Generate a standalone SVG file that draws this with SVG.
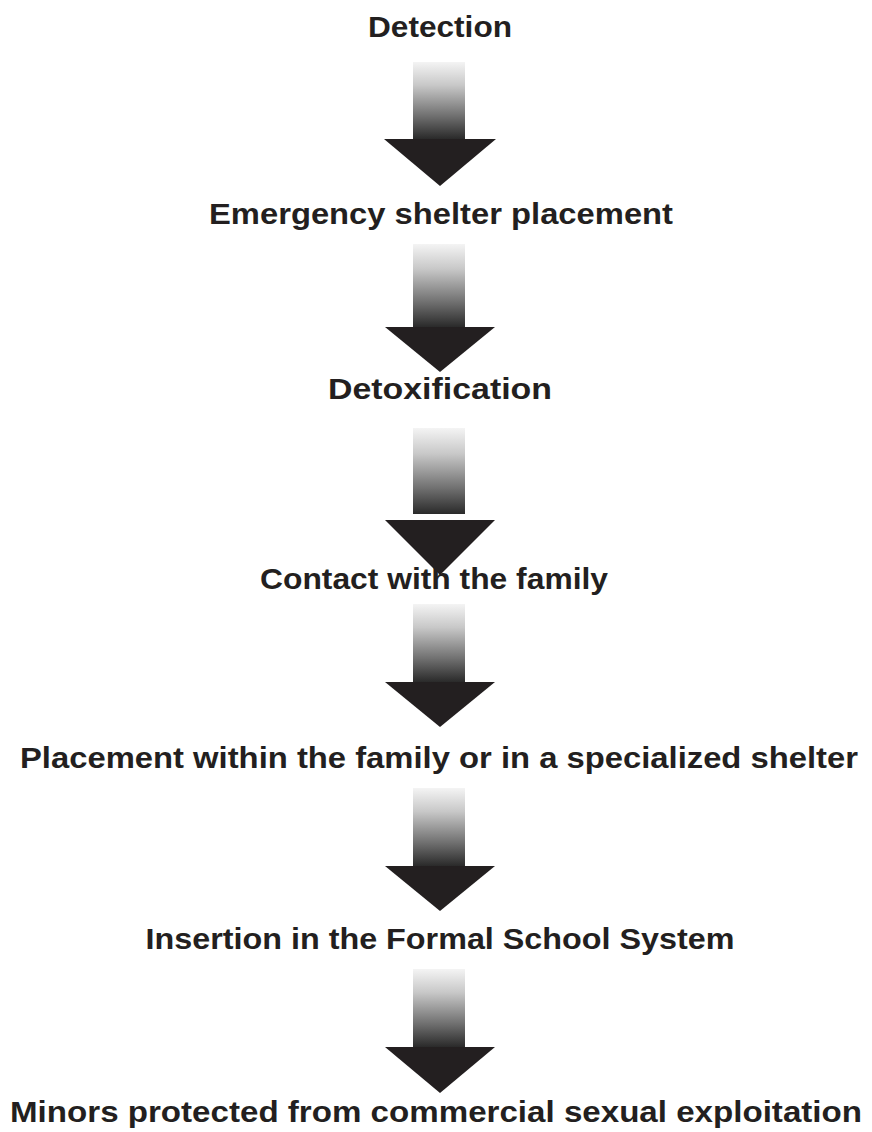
<svg xmlns="http://www.w3.org/2000/svg" width="872" height="1132" viewBox="0 0 872 1132">
<style>
.t{font-family:"Liberation Sans",Arial,sans-serif;font-weight:bold;font-size:30px;fill:#231f20;text-anchor:middle}
.head{fill:#231f20}
.shaft{fill:url(#g)}
</style>
<defs>
<linearGradient id="g" x1="0" y1="0" x2="0" y2="1">
<stop offset="0" stop-color="#f4f4f4"/>
<stop offset="0.3" stop-color="#c8c8c8"/>
<stop offset="0.7" stop-color="#707070"/>
<stop offset="1" stop-color="#2a2a2a"/>
</linearGradient>
</defs>
<g id="n1"><text class="t" x="440" y="37" textLength="144" lengthAdjust="spacingAndGlyphs">Detection</text></g>
<g id="n2"><text class="t" x="441" y="224" textLength="464" lengthAdjust="spacingAndGlyphs">Emergency shelter placement</text></g>
<g id="n3"><text class="t" x="440" y="399" textLength="224" lengthAdjust="spacingAndGlyphs">Detoxification</text></g>
<g id="n4"><text class="t" x="434" y="589" textLength="348" lengthAdjust="spacingAndGlyphs">Contact with the family</text></g>
<g id="n5"><text class="t" x="439" y="768" textLength="838" lengthAdjust="spacingAndGlyphs">Placement within the family or in a specialized shelter</text></g>
<g id="n6"><text class="t" x="440" y="949" textLength="589" lengthAdjust="spacingAndGlyphs">Insertion in the Formal School System</text></g>
<g id="n7"><text class="t" x="436" y="1122" textLength="852" lengthAdjust="spacingAndGlyphs">Minors protected from commercial sexual exploitation</text></g>
<g id="connectors">
<rect class="shaft" x="413" y="62" width="52" height="77"/>
<polygon class="head" points="384,139 496,139 440,186"/>
<rect class="shaft" x="413" y="244" width="52" height="83"/>
<polygon class="head" points="385,327 495,327 440,372"/>
<rect class="shaft" x="413" y="428" width="52" height="86"/>
<polygon class="head" points="385,520 495,520 440,575"/>
<rect class="shaft" x="413" y="604" width="52" height="78"/>
<polygon class="head" points="385,682 495,682 440,727"/>
<rect class="shaft" x="413" y="788" width="52" height="78"/>
<polygon class="head" points="385,866 495,866 440,911"/>
<rect class="shaft" x="413" y="969" width="52" height="78"/>
<polygon class="head" points="385,1047 495,1047 440,1093"/>
</g>
</svg>
